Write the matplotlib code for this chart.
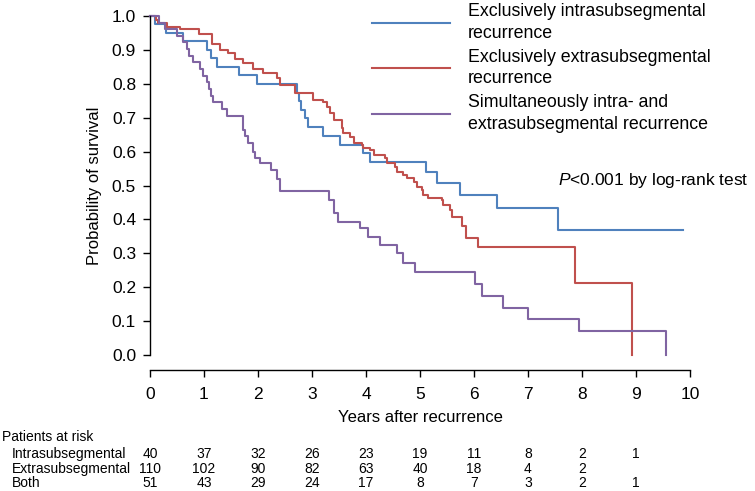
import matplotlib
matplotlib.use("Agg")
import matplotlib.pyplot as plt
import matplotlib.transforms as mtransforms

plt.rcParams['font.family'] = ['Liberation Sans', 'DejaVu Sans']
plt.rcParams['mathtext.fontset'] = 'custom'
plt.rcParams['mathtext.rm'] = 'Liberation Sans'
plt.rcParams['mathtext.it'] = 'Liberation Sans:italic'

# Kaplan-Meier steps: (time in years, survival after the drop)
intra_t = [0, 0.09, 0.30, 0.62, 1.05, 1.13, 1.24, 1.65, 1.98, 2.72, 2.76, 2.79, 2.87,
           2.93, 3.21, 3.52, 3.95, 4.07, 5.12, 5.31, 5.74, 6.42, 7.55, 9.87]
intra_s = [1.0, 0.975, 0.95, 0.925, 0.90, 0.875, 0.85, 0.825, 0.80, 0.774, 0.749, 0.723,
           0.698, 0.673, 0.647, 0.62, 0.595, 0.57, 0.541, 0.507, 0.473, 0.433, 0.37, 0.37]

extra_t = [0, 0.11, 0.15, 0.31, 0.56, 0.90, 1.14, 1.30, 1.45, 1.57, 1.73, 1.91, 2.10,
           2.35, 2.41, 2.69, 3.02, 3.21, 3.27, 3.33, 3.40, 3.55, 3.58, 3.70, 3.77, 3.92,
           3.95, 4.07, 4.14, 4.35, 4.38, 4.54, 4.57, 4.69, 4.75, 4.88, 4.94, 5.03, 5.06,
           5.15, 5.40, 5.43, 5.56, 5.59, 5.77, 5.86, 6.08, 7.87, 8.93]
extra_s = [1.0, 0.988, 0.978, 0.968, 0.963, 0.946, 0.917, 0.90, 0.89, 0.872, 0.86, 0.843,
           0.831, 0.817, 0.797, 0.773, 0.752, 0.747, 0.732, 0.713, 0.693, 0.670, 0.654,
           0.644, 0.624, 0.619, 0.61, 0.605, 0.59, 0.58, 0.565, 0.556, 0.541, 0.531,
           0.521, 0.511, 0.496, 0.487, 0.472, 0.462, 0.457, 0.442, 0.428, 0.408, 0.380,
           0.345, 0.32, 0.213, 0.0]

both_t = [0, 0.17, 0.28, 0.50, 0.62, 0.68, 0.72, 0.80, 0.93, 0.99, 1.05, 1.10, 1.13,
          1.17, 1.33, 1.43, 1.73, 1.76, 1.82, 1.91, 1.94, 2.04, 2.24, 2.35, 2.41, 3.32,
          3.41, 3.49, 3.89, 4.04, 4.26, 4.57, 4.69, 4.91, 6.02, 6.14, 6.54, 7.00, 7.95, 9.55]
both_s = [1.0, 0.980, 0.961, 0.941, 0.922, 0.902, 0.882, 0.863, 0.843, 0.824, 0.804,
          0.784, 0.765, 0.745, 0.725, 0.706, 0.665, 0.645, 0.624, 0.60, 0.58, 0.565,
          0.546, 0.52, 0.484, 0.457, 0.418, 0.393, 0.374, 0.349, 0.324, 0.30, 0.27,
          0.245, 0.21, 0.175, 0.14, 0.105, 0.07, 0.0]

labels = ['Exclusively intrasubsegmental\nrecurrence',
          'Exclusively extrasubsegmental\nrecurrence',
          'Simultaneously intra- and\nextrasubsegmental recurrence']
colors = ['#4f81bd', '#c0504d', '#8064a2']

# patients at risk table
risk_years = list(range(10))
risk_names = ['Intrasubsegmental', 'Extrasubsegmental', 'Both']
risk_intra = [40, 37, 32, 26, 23, 19, 11, 8, 2, 1]
risk_extra = [110, 102, 90, 82, 63, 40, 18, 4, 2, None]
risk_both = [51, 43, 29, 24, 17, 8, 7, 3, 2, 1]

fig = plt.figure(figsize=(7.55, 4.91), dpi=100)
ax = fig.add_axes([150 / 755, 1 - 355 / 491, 540 / 755, 339 / 491])

curves = [(intra_t, intra_s), (extra_t, extra_s), (both_t, both_s)]
for (t, s), c, lab in zip(curves, colors, labels):
    ax.step(t, s, where='post', color=c, lw=1.5, label=lab, clip_on=False)

ax.set_xlim(0, 10)
ax.set_ylim(0, 1)
ax.set_xticks(range(11))
ax.set_yticks([i / 10 for i in range(11)])
ax.set_yticklabels([f'{i / 10:.1f}' for i in range(11)])
for side in ['top', 'right']:
    ax.spines[side].set_visible(False)
ax.spines['bottom'].set_position(('outward', 10.8))
ax.spines['left'].set_linewidth(1.0)
ax.spines['bottom'].set_linewidth(1.0)
ax.tick_params(direction='out', length=5, width=1.0, labelsize=12.5)
ax.tick_params(axis='x', pad=7)
ax.tick_params(axis='y', pad=5)

ax.set_xlabel('Years after recurrence', fontsize=12, labelpad=6)
ax.set_ylabel('Probability of survival', fontsize=12, labelpad=7)

leg = ax.legend(loc='upper left', bbox_to_anchor=(372 / 755, 1 - 3 / 491),
                bbox_transform=fig.transFigure, frameon=False, fontsize=12.8,
                handlelength=4.4, handletextpad=1.0, labelspacing=0.4,
                borderpad=0, borderaxespad=0)
for txt in leg.get_texts():
    txt.set_linespacing(1.35)

ax.text(7.55, 0.515, r'$\it{P}$<0.001 by log-rank test', fontsize=12.5,
        va='center', ha='left')

# at-risk table below the plot
trans = mtransforms.blended_transform_factory(ax.transData, fig.transFigure)
fig.text(2 / 755, 1 - 437 / 491, 'Patients at risk', fontsize=10, va='center')
row_y = [454, 469, 483]
for name, counts, yy in zip(risk_names, [risk_intra, risk_extra, risk_both], row_y):
    fig.text(12 / 755, 1 - yy / 491, name, fontsize=10, va='center')
    for yr, n in zip(risk_years, counts):
        if n is not None:
            ax.text(yr, 1 - yy / 491, str(n), transform=trans, fontsize=10,
                    ha='center', va='center')

fig.savefig('out.png', dpi=100)
